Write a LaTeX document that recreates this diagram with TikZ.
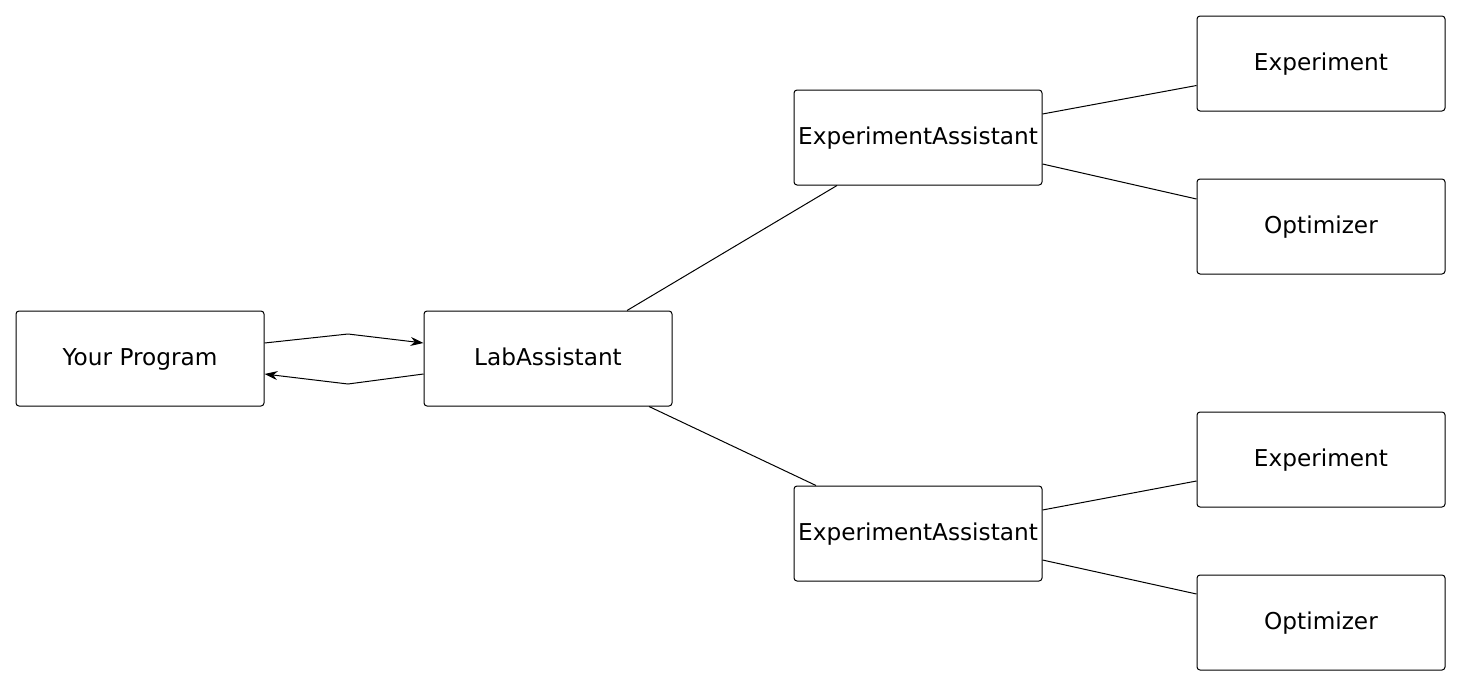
\documentclass[tikz,border=0pt]{standalone}
\usepackage{fontspec}
\setmainfont{DejaVu Sans}
\usepackage{tikz}
\usetikzlibrary{arrows.meta}

\begin{document}
\begin{tikzpicture}[x=0.5pt,y=-0.5pt]
\useasboundingbox (0,0) rectangle (1460,685);
\begin{scope}[every node/.style={draw,rounded corners=1.5pt,line width=0.5pt,minimum width=124pt,minimum height=47.5pt,inner sep=0pt,text height=0.73em,text depth=0pt,font=\fontsize{11.6}{13}\selectfont}]
    \node (P) at (140,358.5) {Your Program};
    \node (L) at (548,358.5) {LabAssistant};
    \node (A1) at (918,137.5) {ExperimentAssistant};
    \node (A2) at (918,533.5) {ExperimentAssistant};
    \node (E1) at (1321,63.5) {Experiment};
    \node (O1) at (1321,226.5) {Optimizer};
    \node (E2) at (1321,459.5) {Experiment};
    \node (O2) at (1321,622.5) {Optimizer};
\end{scope}
\begin{scope}[line width=0.5pt]
    \path [-] ([xshift=39.5pt]L.north) edge ([xshift=-40.5pt]A1.south);
    \path [-] ([xshift=50.5pt]L.south) edge ([xshift=-51pt]A2.north);
    \path [-] ([yshift=11.75pt]A1.east) edge ([yshift=-11pt]E1.west);
    \path [-] ([yshift=-13.25pt]A1.east) edge ([yshift=13.75pt]O1.west);
    \path [-] ([yshift=11.75pt]A2.east) edge ([yshift=-10.75pt]E2.west);
    \path [-] ([yshift=-13.25pt]A2.east) edge ([yshift=14.25pt]O2.west);
    % request / reply
    \draw [-{Stealth[length=6.5pt,width=4.5pt]}] ([yshift=7.75pt]P.east) -- (348,334) -- ([yshift=7.75pt]L.west);
    \draw [-{Stealth[length=6.5pt,width=4.5pt]}] ([yshift=-7.75pt]L.west) -- (348,384) -- ([yshift=-7.75pt]P.east);
\end{scope}
\end{tikzpicture}
\end{document}
